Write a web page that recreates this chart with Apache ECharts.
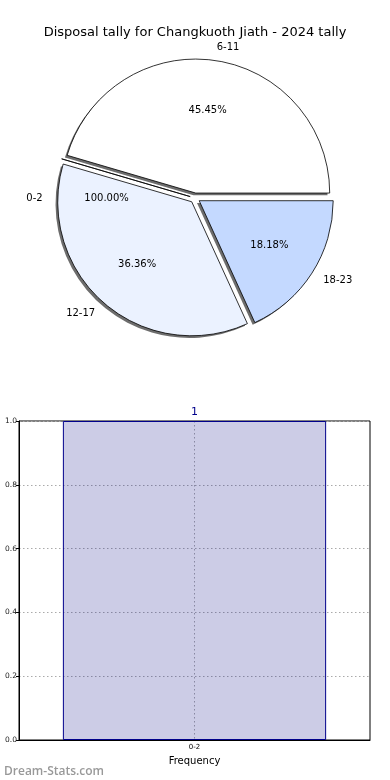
<!DOCTYPE html>
<html><head><meta charset="utf-8">
<script src="https://cdn.jsdelivr.net/npm/echarts@6/dist/echarts.min.js"></script>
<style>html,body{margin:0;padding:0;background:#fff}#c{width:390px;height:780px}</style>
</head><body><div id="c"></div>
<script>
// ---- data ----
const titleText = 'Disposal tally for Changkuoth Jiath - 2024 tally';
const pieCategories = ['6-11', '0-2', '12-17', '18-23'];
const pieValues = [5, 0, 4, 2];
const pieLabels = ['45.45%', '100.00%', '36.36%', '18.18%'];
const pieColors = ['#ffffff', '#ffffff', '#ebf2ff', '#c4d9ff'];
const barCategories = ['0-2'];
const barValues = [1];
const barLabels = ['1'];
const yMin = 0, yMax = 1, yStep = 0.2;

// ---- layout ----
const CX = 195, CY = 198, R = 134, OFF = 5;
const SHX = -2.2, SHY = 2.2;
const FONT = 'DejaVu Sans';

const hidden = { color: 'rgba(0,0,0,0)', borderWidth: 0 };

const mainData = pieCategories.map((n, i) => ({
  name: n, value: pieValues[i], selected: true,
  itemStyle: pieValues[i] > 0 ? { color: pieColors[i] } : hidden
}));
const shadowData = pieCategories.map((n, i) => ({
  name: n, value: pieValues[i], selected: true,
  itemStyle: pieValues[i] > 0 ? { color: 'rgba(60,60,60,0.75)' } : hidden
}));

function labelPie(data, radius, position, len) {
  return {
    type: 'pie', silent: true, animation: false, avoidLabelOverlap: false,
    startAngle: 0, clockwise: false, center: [CX, CY], radius: radius,
    data: data, itemStyle: hidden,
    emphasis: { disabled: true },
    label: {
      show: true, position: position, fontFamily: FONT, fontSize: 10, color: '#000',
      distanceToLabelLine: 0
    },
    labelLine: { show: false, length: len, length2: 0 }
  };
}

const pctData = pieCategories.map((n, i) => ({
  name: n, value: pieValues[i],
  label: { show: pieValues[i] > 0, formatter: pieLabels[i] }
}));
const nameData = pieCategories.map((n, i) => ({
  name: n, value: pieValues[i],
  label: { show: pieValues[i] > 0, formatter: n }
}));
// the zero slice's labels sit on the left (180°), as in the original
const zeroIdx = pieValues.indexOf(0);
const zeroPct = [{ value: 1, name: 'a', label: { show: false } },
  { value: 0, name: pieCategories[zeroIdx], label: { formatter: pieLabels[zeroIdx] } },
  { value: 1, name: 'b', label: { show: false } }];
const zeroName = [{ value: 1, name: 'a', label: { show: false } },
  { value: 0, name: pieCategories[zeroIdx], label: { formatter: pieCategories[zeroIdx] } },
  { value: 1, name: 'b', label: { show: false } }];

const chart = echarts.init(document.getElementById('c'), null, { renderer: 'canvas' });
chart.setOption({
  animation: false,
  backgroundColor: '#fff',
  title: [
    { text: titleText, left: 'center', top: 21,
      textStyle: { fontFamily: FONT, fontSize: 13, fontWeight: 'normal', color: '#000' } },
    { text: 'Dream-Stats.com', left: -1, top: 761,
      textStyle: { fontFamily: 'Open Sans', fontSize: 12, fontWeight: 600, color: '#999' } }
  ],
  grid: { left: 19, right: 20, top: 421, bottom: 40, show: true, borderColor: '#000', borderWidth: 1 },
  xAxis: {
    type: 'category', data: barCategories,
    axisLine: { lineStyle: { color: '#000' } },
    axisTick: { show: false },
    axisLabel: { fontFamily: FONT, fontSize: 7, color: '#000', margin: 4 },
    splitLine: { show: true, alignWithLabel: true, lineStyle: { color: '#aaa', type: [1.5, 2.5] } },
    name: 'Frequency', nameLocation: 'middle', nameGap: 16,
    nameTextStyle: { fontFamily: FONT, fontSize: 10, color: '#000' }
  },
  yAxis: {
    type: 'value', min: yMin, max: yMax, interval: yStep,
    axisLine: { show: true, lineStyle: { color: '#000' } },
    axisTick: { show: true, length: 3, lineStyle: { color: '#000' } },
    axisLabel: { fontFamily: FONT, fontSize: 7.5, color: '#222', margin: 2,
      formatter: v => v.toFixed(1) },
    splitLine: { show: true, lineStyle: { color: '#aaa', type: [1.5, 2.5] } }
  },
  series: [
    {
      type: 'pie', animation: false, silent: true, avoidLabelOverlap: false,
      startAngle: 0, clockwise: false, center: [CX + SHX, CY + SHY], radius: R,
      selectedMode: 'multiple', selectedOffset: OFF,
      data: shadowData,
      itemStyle: { borderWidth: 0 },
      select: { itemStyle: { borderWidth: 0 } },
      emphasis: { disabled: true },
      label: { show: false }, labelLine: { show: false }
    },
    {
      type: 'pie', animation: false, silent: true, avoidLabelOverlap: false,
      startAngle: 0, clockwise: false, center: [CX, CY], radius: R,
      selectedMode: 'multiple', selectedOffset: OFF,
      data: mainData,
      itemStyle: { borderColor: '#000', borderWidth: 0.8 },
      select: { itemStyle: { borderColor: '#000', borderWidth: 0.8 } },
      emphasis: { disabled: true },
      label: { show: false }, labelLine: { show: false }
    },
    labelPie(pctData, [0.2 * R + OFF, R + OFF], 'inside', 0),
    labelPie(nameData, R + OFF, 'outside', 0.1 * R),
    labelPie(zeroPct, [0.2 * R + OFF, R + OFF], 'inside', 0),
    labelPie(zeroName, R + OFF, 'outside', 0.1 * R),
    {
      type: 'bar', data: barValues, barWidth: '75%', silent: true,
      itemStyle: { color: 'rgba(0,0,128,0.2)', borderColor: '#00008b', borderWidth: 1 },
      label: { show: true, position: 'top', distance: 3, fontFamily: FONT, fontSize: 11, color: '#00008b',
        formatter: p => barLabels[p.dataIndex] }
    }
  ]
});
</script></body></html>
